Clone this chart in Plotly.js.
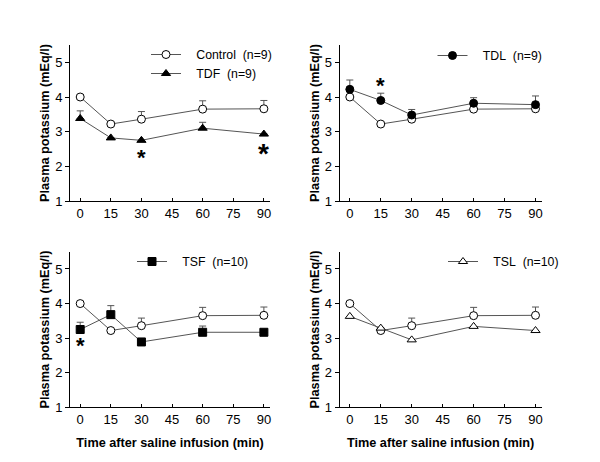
<!DOCTYPE html>
<html>
<head>
<meta charset="utf-8">
<script src="https://cdn.plot.ly/plotly-3.0.1.min.js"></script>
<style>html,body{margin:0;padding:0;background:#fff;}#chart{width:600px;height:462px;}</style>
</head>
<body>
<div id="chart"></div>
<script>
// ---- data ----
var timeMin = [0, 15, 30, 60, 90];
var xTickVals = [0, 15, 30, 45, 60, 75, 90];
var yTickVals = [1, 2, 3, 4, 5];

var control = [4.0, 3.22, 3.36, 3.65, 3.66];
var controlErr = [0, 0, 0.22, 0.24, 0.24];

var tdf = [3.38, 2.82, 2.75, 3.1, 2.93];
var tdfErr = [0.22, 0, 0, 0.17, 0];

var tdl = [4.22, 3.9, 3.48, 3.82, 3.78];
var tdlErr = [0.27, 0.21, 0.16, 0.16, 0.25];

var tsf = [3.25, 3.68, 2.89, 3.17, 3.17];
var tsfErr = [0.21, 0.26, 0, 0.18, 0];

var tsl = [3.63, 3.29, 2.95, 3.34, 3.22];

var PAD = "\u00a0\u00a0\u00a0";
var names = {
  control: PAD + "Control\u00a0\u00a0(n=9)",
  tdf: PAD + "TDF\u00a0\u00a0(n=9)",
  tdl: PAD + "TDL\u00a0\u00a0(n=9)",
  tsf: PAD + "TSF\u00a0\u00a0(n=10)",
  tsl: PAD + "TSL\u00a0\u00a0(n=10)"
};

// significance markers
var starX1 = [30, 90], starY1 = [2.38, 2.53], starS1 = [22, 28];
var starX2 = [15], starY2 = [4.46], starS2 = [22];
var starX3 = [0], starY3 = [2.9], starS3 = [22];

// ---- styling ----
var FONT = "Arial, 'Liberation Sans', sans-serif";
var lineCol = "#555555";
var ink = "#000000";

function errY(arr) {
  if (!arr) return {visible: false};
  return {type: 'data', symmetric: false, array: arr, arrayminus: arr.map(function(){return 0;}),
          color: lineCol, thickness: 1, width: 3.5};
}

function tr(y, err, name, sym, fill, xa, ya, legend, show) {
  return {
    x: timeMin, y: y, name: name, type: 'scatter', mode: 'lines+markers',
    xaxis: xa, yaxis: ya, legend: legend, showlegend: show,
    line: {color: lineCol, width: 1},
    marker: {symbol: sym, size: 8, color: fill, line: {color: ink, width: 1}},
    error_y: errY(err)
  };
}

var traces = [
  tr(control, controlErr, names.control, 'circle', '#ffffff', 'x', 'y', 'legend', true),
  tr(tdf, tdfErr, names.tdf, 'triangle-up', ink, 'x', 'y', 'legend', true),
  tr(control, null, names.control, 'circle', '#ffffff', 'x2', 'y2', 'legend2', false),
  tr(tdl, tdlErr, names.tdl, 'circle', ink, 'x2', 'y2', 'legend2', true),
  tr(control, controlErr, names.control, 'circle', '#ffffff', 'x3', 'y3', 'legend3', false),
  tr(tsf, tsfErr, names.tsf, 'square', ink, 'x3', 'y3', 'legend3', true),
  tr(control, controlErr, names.control, 'circle', '#ffffff', 'x4', 'y4', 'legend4', false),
  tr(tsl, null, names.tsl, 'triangle-up', '#ffffff', 'x4', 'y4', 'legend4', true)
];

function xax(domain, anchor, showTitle) {
  var a = {
    domain: domain, anchor: anchor, range: [-5, 93],
    tickmode: 'array', tickvals: xTickVals, ticks: 'inside', ticklen: 3, tickcolor: ink,
    showline: true, linecolor: ink, linewidth: 1, showgrid: false, zeroline: false,
    tickfont: {family: FONT, size: 13, color: ink}
  };
  if (showTitle) a.title = {text: '<b>Time after saline infusion (min)</b>', standoff: 12,
                            font: {family: FONT, size: 12.7, color: ink}};
  return a;
}
function yax(domain, anchor) {
  return {
    domain: domain, anchor: anchor, range: [1, 5.5],
    tickmode: 'array', tickvals: yTickVals, ticks: 'outside', ticklen: 4, tickcolor: ink,
    showline: true, linecolor: ink, linewidth: 1, showgrid: false, zeroline: false,
    tickfont: {family: FONT, size: 13, color: ink},
    title: {text: '<b>Plasma potassium (mEq/l)</b>', standoff: 2,
            font: {family: FONT, size: 12.7, color: ink}}
  };
}

var xL = [70/600, 270/600], xR = [339.5/600, 541.7/600];
var yT = [1 - 201/462, 1 - 45/462], yB = [1 - 407.3/462, 1 - 251.7/462];

function leg(px, py) {
  return {x: px/600, y: 1 - py/462, xanchor: 'left', yanchor: 'top',
          bgcolor: 'rgba(0,0,0,0)', borderwidth: 0,
          font: {family: FONT, size: 12.3, color: ink}, itemwidth: 30, tracegroupgap: 0};
}

var annotations = [];
function stars(xs, ys, ss, xr, yr) {
  for (var i = 0; i < xs.length; i++) {
    annotations.push({x: xs[i], y: ys[i], xref: xr, yref: yr, text: '<b>*</b>', showarrow: false,
      font: {family: FONT, size: ss[i], color: ink}, yshift: -ss[i]*0.2});
  }
}
stars(starX1, starY1, starS1, 'x', 'y');
stars(starX2, starY2, starS2, 'x2', 'y2');
stars(starX3, starY3, starS3, 'x3', 'y3');

var layout = {
  width: 600, height: 462,
  margin: {l: 0, r: 0, t: 0, b: 0},
  paper_bgcolor: '#ffffff', plot_bgcolor: 'rgba(0,0,0,0)',
  font: {family: FONT, color: ink},
  xaxis: xax(xL, 'y', false), yaxis: yax(yT, 'x'),
  xaxis2: xax(xR, 'y2', false), yaxis2: yax(yT, 'x2'),
  xaxis3: xax(xL, 'y3', true), yaxis3: yax(yB, 'x3'),
  xaxis4: xax(xR, 'y4', true), yaxis4: yax(yB, 'x4'),
  legend: leg(146, 40),
  legend2: leg(432.5, 41),
  legend3: leg(132, 247),
  legend4: leg(443, 247),
  annotations: annotations,
  showlegend: true
};

Plotly.newPlot('chart', traces, layout, {staticPlot: true, displayModeBar: false});
</script>
</body>
</html>
